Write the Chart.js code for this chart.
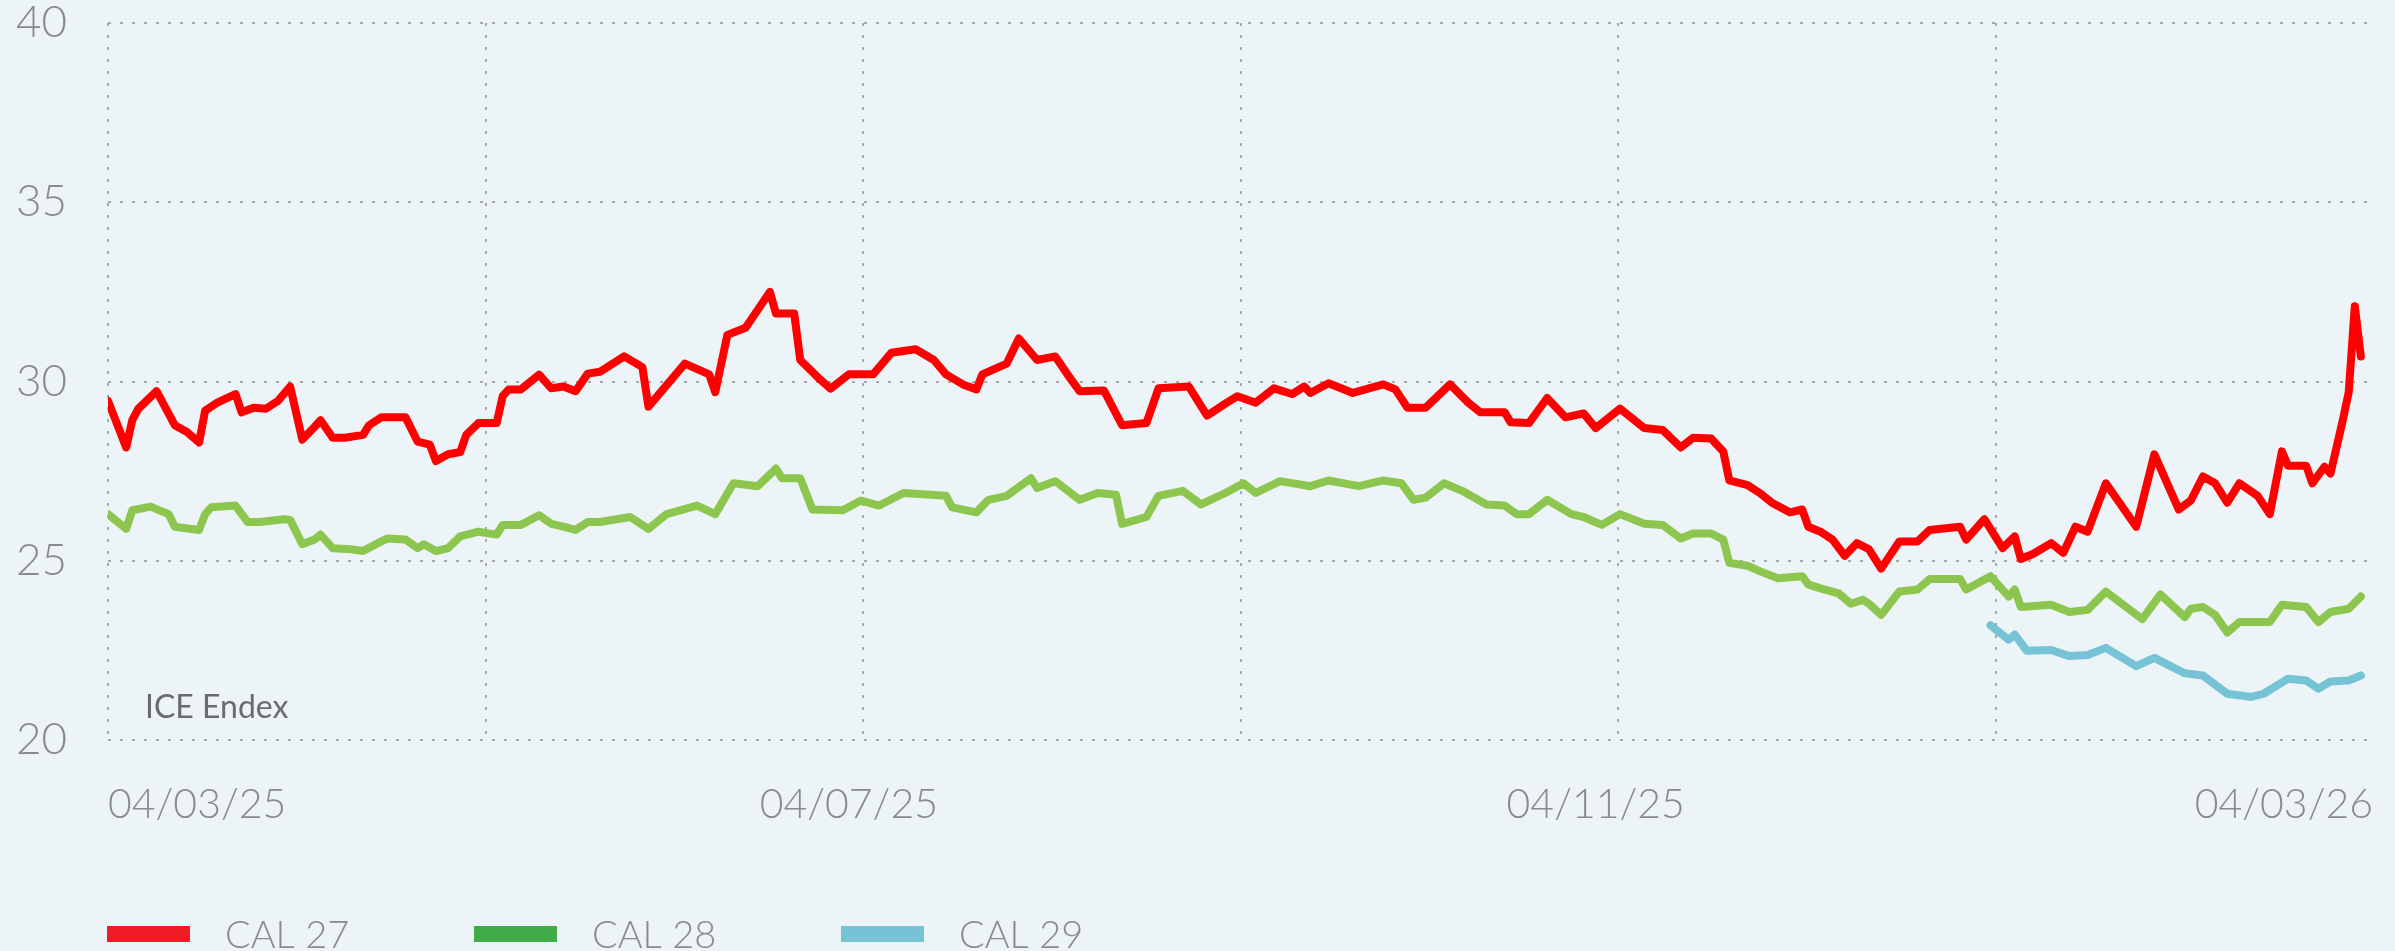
<!DOCTYPE html>
<html><head><meta charset="utf-8">
<script src="https://cdn.jsdelivr.net/npm/chart.js@4.4.1/dist/chart.umd.min.js"></script>
<style>
html,body{margin:0;padding:0;background:#ECF4F7;overflow:hidden;}
canvas{display:block;}
</style></head><body>
<canvas id="c" width="2395" height="951"></canvas>
<script>
// ---- data (x = days since 04/03/25) ----
const seriesNames = ['CAL 27', 'CAL 28', 'CAL 29'];
const sourceLabel = 'ICE Endex';
const yTicks = [20, 25, 30, 35, 40];
const tickDays = [0, 122, 245, 373];
const tickLabels = ['04/03/25', '04/07/25', '04/11/25', '04/03/26'];

const cal27Days = [0,3,4,5,8,11,13,15,16,18,21,22,24,26,28,30,32,34,35,37,39,42,43,45,49,51,53,54,56,58,59,61,64,65,66,68,71,73,75,77,79,81,85,88,89,92,95,99,100,102,105,109,110,113,114,117,119,122,126,129,133,136,138,141,143,144,148,150,153,156,158,160,164,167,171,173,178,181,184,186,189,192,195,197,198,201,205,210,212,214,217,221,224,226,230,231,234,237,240,243,245,249,253,256,259,261,264,266,267,270,272,274,277,279,280,282,284,286,288,290,292,295,298,300,305,306,309,312,314,315,317,320,322,324,326,329,334,337,341,343,345,347,349,351,354,356,358,359,362,363,365,366,368,369,370,371];
const cal27Values = [29.46,28.16,28.92,29.24,29.73,28.78,28.59,28.30,29.19,29.41,
29.65,29.14,29.27,29.24,29.46,29.86,28.38,28.73,28.92,28.43,
28.43,28.51,28.78,29.0,29.0,28.32,28.24,27.78,27.97,28.03,
28.51,28.84,28.84,29.59,29.78,29.78,30.19,29.81,29.86,29.73,
30.22,30.27,30.7,30.4,29.3,29.9,30.5,30.2,29.7,31.3,
31.5,32.5,31.9,31.9,30.6,30.1,29.8,30.2,30.2,30.8,
30.9,30.6,30.2,29.9,29.78,30.2,30.5,31.2,30.6,30.7,
30.2,29.73,29.75,28.78,28.84,29.81,29.86,29.05,29.38,29.59,
29.41,29.81,29.65,29.86,29.68,29.95,29.68,29.92,29.78,29.27,
29.27,29.92,29.41,29.14,29.14,28.86,28.84,29.54,29.0,29.11,
28.70,29.24,28.70,28.65,28.16,28.43,28.41,28.05,27.24,27.11,
26.89,26.62,26.35,26.43,25.95,25.81,25.59,25.14,25.49,25.32,
24.78,25.54,25.54,25.86,25.95,25.59,26.16,25.35,25.68,25.05,
25.19,25.49,25.22,25.95,25.81,27.16,25.95,27.97,26.43,26.68,
27.35,27.16,26.62,27.16,26.81,26.3,28.05,27.65,27.65,27.16,
27.62,27.43,28.9,29.7,32.1,30.7];

const cal28Days = [0,3,4,7,10,11,15,16,17,21,23,25,29,30,32,34,35,37,40,42,45,46,49,51,52,54,56,58,61,64,65,68,71,73,75,77,79,81,86,89,92,97,100,103,107,110,111,114,116,121,124,127,131,138,139,143,145,148,152,153,156,160,163,166,167,171,173,177,180,184,187,189,193,198,201,206,210,213,215,217,220,223,227,230,232,234,237,241,243,246,249,253,256,259,261,264,266,267,270,272,275,279,280,282,285,287,289,290,292,295,298,300,305,306,310,313,314,315,320,323,326,329,335,338,342,343,345,347,349,351,356,358,362,364,366,369,371];
const cal28Values = [26.30,25.89,26.41,26.51,26.30,25.95,25.86,26.30,26.49,26.54,
26.08,26.08,26.16,26.14,25.46,25.59,25.73,25.35,25.32,25.27,
25.54,25.62,25.59,25.35,25.46,25.27,25.35,25.68,25.81,25.73,
26.0,26.0,26.27,26.03,25.95,25.86,26.08,26.08,26.22,25.89,
26.30,26.54,26.30,27.16,27.08,27.57,27.30,27.30,26.43,26.41,
26.68,26.54,26.89,26.81,26.49,26.35,26.70,26.81,27.30,27.03,
27.22,26.70,26.89,26.84,26.03,26.22,26.81,26.95,26.57,26.89,
27.16,26.89,27.22,27.08,27.24,27.08,27.24,27.16,26.70,26.76,
27.16,26.95,26.57,26.54,26.30,26.30,26.70,26.30,26.22,26.0,
26.30,26.03,26.0,25.62,25.76,25.76,25.59,24.94,24.86,24.71,
24.51,24.57,24.34,24.23,24.09,23.8,23.91,23.8,23.49,24.14,
24.2,24.49,24.49,24.2,24.57,24.0,24.2,23.71,23.77,23.57,
23.63,24.14,23.37,24.06,23.43,23.66,23.71,23.49,23.0,23.29,
23.29,23.77,23.71,23.29,23.57,23.66,24.0];

const cal29Days = [310,313,314,316,320,323,326,329,334,337,342,345,349,353,355,359,362,364,366,369,371];
const cal29Values = [23.2,22.8,22.94,22.49,22.51,22.34,22.37,22.57,22.06,22.29,21.86,21.8,21.29,21.2,21.29,21.71,21.66,21.43,21.63,21.66,21.8];

// ---- styling ----
const lineColors = ['#FF0000', '#8DC64E', '#77C3D6'];
const legendColors = ['#EE1C25', '#41AD49', '#76C3D6'];
const gridColor = 'rgba(140,140,140,0.7)';
const FONT = 'Lato, "Open Sans", sans-serif';

function pts(days, vals) {
  const n = Math.min(days.length, vals.length);
  const out = [];
  for (let i = 0; i < n; i++) out.push({x: days[i], y: vals[i]});
  return out;
}
function noPad(s) { s.paddingLeft = 0; s.paddingRight = 0; s.paddingTop = 0; s.paddingBottom = 0; }

const extraText = {
  id: 'extraText',
  afterDraw(chart) {
    const ctx = chart.ctx;
    ctx.save();
    ctx.font = '400 32px ' + FONT;
    ctx.fillStyle = '#6b6b6b';
    ctx.textBaseline = 'alphabetic';
    ctx.textAlign = 'left';
    ctx.fillText(sourceLabel, 145, 718);
    const startX = 107, step = 367, boxW = 83, boxH = 16, boxY = 926;
    ctx.font = '300 38px ' + FONT;
    chart.data.datasets.forEach((ds, i) => {
      const x = startX + i * step;
      ctx.fillStyle = legendColors[i];
      ctx.fillRect(x, boxY, boxW, boxH);
      ctx.fillStyle = '#8a8a8a';
      ctx.fillText(ds.label, x + 118, 948);
    });
    ctx.restore();
  }
};

new Chart(document.getElementById('c'), {
  type: 'line',
  data: {
    datasets: [
      {label: seriesNames[0], data: pts(cal27Days, cal27Values), borderColor: lineColors[0]},
      {label: seriesNames[1], data: pts(cal28Days, cal28Values), borderColor: lineColors[1]},
      {label: seriesNames[2], data: pts(cal29Days, cal29Values), borderColor: lineColors[2]}
    ]
  },
  options: {
    responsive: false,
    animation: false,
    devicePixelRatio: 1,
    layout: {padding: {left: 16, top: 23, right: 22, bottom: 0}},
    elements: {
      line: {borderWidth: 8, tension: 0, borderJoinStyle: 'round', borderCapStyle: 'round', fill: false},
      point: {radius: 0, hoverRadius: 0}
    },
    plugins: {legend: {display: false}, tooltip: {enabled: false}},
    scales: {
      x: {
        type: 'linear', position: 'bottom', min: 0, max: 373,
        afterBuildTicks: s => { s.ticks = tickDays.map(v => ({value: v})); },
        afterFit: s => { s.height = 211; noPad(s); },
        grid: {display: false, drawTicks: false},
        border: {display: false},
        ticks: {
          autoSkip: false, maxRotation: 0, minRotation: 0, align: 'inner', padding: 40,
          color: '#8a8a8a', font: {family: FONT, size: 41, weight: '300'},
          callback: (v) => { const i = tickDays.indexOf(v); return i >= 0 ? tickLabels[i] : ''; }
        }
      },
      xg: {
        type: 'linear', position: 'top', min: 0, max: 6,
        afterBuildTicks: s => { s.ticks = [0,1,2,3,4,5].map(v => ({value: v})); },
        afterFit: s => { s.height = 0; noPad(s); },
        ticks: {display: false},
        grid: {color: gridColor, lineWidth: 2, drawTicks: false, borderDash: [3, 9]},
        border: {display: false, dash: [3, 9]}
      },
      y: {
        min: 20, max: 40,
        afterBuildTicks: s => { s.ticks = yTicks.map(v => ({value: v})); },
        afterFit: s => { s.width = 92; noPad(s); },
        grid: {color: gridColor, lineWidth: 2, drawTicks: false, borderDash: [3, 9]},
        border: {display: false, dash: [3, 9]},
        ticks: {
          crossAlign: 'far', padding: 0,
          color: '#8a8a8a', font: {family: FONT, size: 44, weight: '300'}
        }
      }
    }
  },
  plugins: [extraText]
});
</script>
</body></html>
